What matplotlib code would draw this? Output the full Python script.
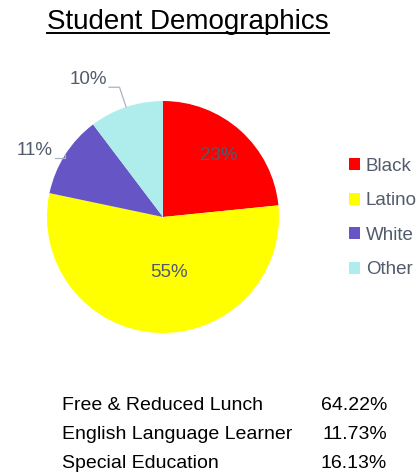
import numpy as np
import matplotlib
matplotlib.use("Agg")
import matplotlib.pyplot as plt
from matplotlib.lines import Line2D

plt.rcParams['font.family'] = ['Liberation Sans', 'DejaVu Sans']

# pie data
groups = ["Black", "Latino", "White", "Other"]
shares = [23.4, 54.9, 11.4, 10.3]
colors = ["#FF0000", "#FFFF00", "#6655C4", "#AFEDED"]

# table under the chart
table_labels = ["Free & Reduced Lunch", "English Language Learner", "Special Education"]
table_values = ["64.22%", "11.73%", "16.13%"]

W, H = 420, 474
fig = plt.figure(figsize=(W / 100, H / 100), dpi=100)

# pie axes: centre (163, 217) px, radius 116 px
cx, cy, r = 163, 217, 116
ax = fig.add_axes([(cx - r) / W, (H - cy - r) / H, 2 * r / W, 2 * r / H])
wedges, _ = ax.pie(shares, colors=colors, startangle=90, counterclock=False,
                   radius=1.0, wedgeprops=dict(linewidth=0))
ax.set_xlim(-1, 1)
ax.set_ylim(-1, 1)
ax.set_aspect('equal')
ax.axis('off')

label_col = "#515b6c"
line_col = "#aab3c2"
# inside labels: (radius, angle shift); outside labels: elbow radius
inside = {0: (0.72, 0), 1: (0.48, 9)}
outside = {2: 1.0, 3: 1.18}
for i, w in enumerate(wedges):
    mid = np.deg2rad((w.theta1 + w.theta2) / 2)
    txt = "%d%%" % round(shares[i])
    if i in inside:
        rr, shift = inside[i]
        a = mid + np.deg2rad(shift)
        ax.text(rr * np.cos(a), rr * np.sin(a), txt, ha='center', va='center',
                fontsize=13.5, color=label_col)
    else:
        re = outside[i]
        x0, y0 = np.cos(mid), np.sin(mid)
        x1, y1 = re * x0, re * y0 - (0.03 if i == 2 else 0)
        x2 = x1 - 0.09
        ax.add_line(Line2D([x0, x1, x2], [y0, y1, y1], color=line_col,
                           linewidth=0.9, clip_on=False))
        ax.text(x2 - 0.02, y1 - 0.01, txt, ha='right', va='bottom',
                fontsize=13.5, color=label_col, clip_on=False)

# legend
leg = fig.legend(wedges, groups, loc='upper left',
                 bbox_to_anchor=(349 / W, 1 - 158 / H), frameon=False,
                 borderpad=0, borderaxespad=0,
                 fontsize=13.5, labelcolor=label_col, handlelength=0.6,
                 handleheight=0.6, handletextpad=0.3, labelspacing=0.93)

# title with underline
title = fig.text(188 / W, 1 - 22 / H, "Student Demographics", ha='center',
                 va='center', fontsize=20, color='black')
fig.canvas.draw()
bb = title.get_window_extent().transformed(fig.transFigure.inverted())
fig.add_artist(Line2D([bb.x0, bb.x1], [1 - 33 / H, 1 - 33 / H],
                      color='black', linewidth=1.4, transform=fig.transFigure))

# table text
for k, (lab, val) in enumerate(zip(table_labels, table_values)):
    y = 1 - (405 + 29.5 * k) / H
    fig.text(62 / W, y, lab, ha='left', va='center', fontsize=14, color='black')
    fig.text(387 / W, y, val, ha='right', va='center', fontsize=14, color='black')

fig.savefig("out.png", dpi=100)
